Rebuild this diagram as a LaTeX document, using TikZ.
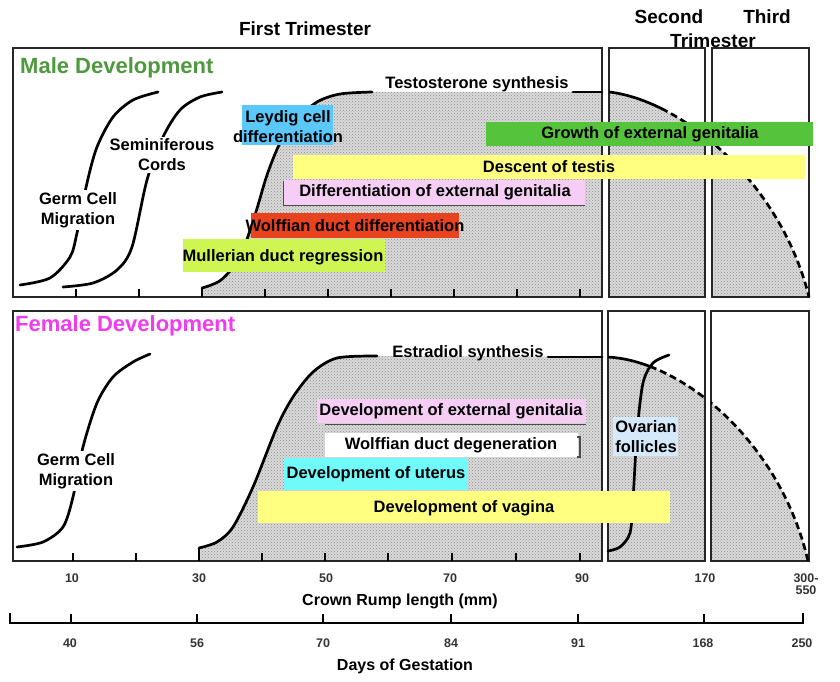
\documentclass[tikz,border=0pt]{standalone}
\usepackage{fontspec}
\setmainfont{Liberation Sans}
\usetikzlibrary{patterns}
\definecolor{malegreen}{RGB}{78,152,62}
\definecolor{femmag}{RGB}{238,60,238}
\definecolor{leyblue}{RGB}{90,200,250}
\definecolor{growgreen}{RGB}{85,196,60}
\definecolor{baryellow}{RGB}{255,255,128}
\definecolor{barpink}{RGB}{245,205,245}
\definecolor{barred}{RGB}{232,66,30}
\definecolor{barlime}{RGB}{206,245,82}
\definecolor{barcyan}{RGB}{112,250,250}
\definecolor{ovblue}{RGB}{212,233,250}
\definecolor{stip}{RGB}{218,218,218}
\begin{document}
\begin{tikzpicture}[x=1pt,y=-1pt,
  lbl/.style={font=\fontsize{16.5}{20}\selectfont\bfseries, inner sep=0pt, align=center},
  ttl/.style={font=\fontsize{19}{22}\selectfont\bfseries, inner sep=0pt},
  sect/.style={font=\fontsize{22}{24}\selectfont\bfseries, inner sep=0pt, anchor=west},
  num/.style={font=\fontsize{12.5}{12}\selectfont\bfseries, inner sep=0pt, align=center, text=black!80},
  axlbl/.style={font=\fontsize{16}{18}\selectfont\bfseries, inner sep=0pt},
  frame/.style={line width=1.7pt, draw=black!85},
  curve/.style={line width=2.7pt, line cap=round},
  dcurve/.style={line width=2.7pt, dash pattern=on 7pt off 4pt},
  tick/.style={line width=1.2pt},
  stipple/.style={fill=stip, postaction={pattern=crosshatch dots, pattern color=black!45}}]
\useasboundingbox (0,0) rectangle (840,682);

% ---------- headings ----------
\node[ttl] (first) at (305,29) {First Trimester};
\node[ttl] (second) at (669,17) {Second};
\node[ttl] (third) at (767,17) {Third};
\node[ttl] (trim) at (713,41) {Trimester};

% ================= MALE PANEL =================
\path[stipple] (202,297) -- plot[smooth] coordinates {(202,288) (221,280) (240,257) (255,215) (267,175) (280,143) (295,121) (317,102) (340,94) (372,92)} -- (602,92) -- (602,297) -- cycle;
\begin{scope}
  \clip (609,48) rectangle (705,297) (712,48) rectangle (809,297);
  \path[stipple] (609,92) .. controls (680,100) and (780,180) .. (809,297) -- (609,297) -- cycle;
\end{scope}
\draw[frame] (13,48) rectangle (602,297);
\draw[frame] (609,48) rectangle (705,297);
\draw[frame] (712,48) rectangle (809,297);
\foreach \x in {76,139,202,265,328,391,454,517,580} \draw[tick] (\x,297) -- (\x,289);

\draw[curve] plot[smooth] coordinates {(20,285) (50,278) (70,257) (77,233) (87,183) (97,147) (113,117) (133,100) (158,92)};
\draw[curve] plot[smooth] coordinates {(63,287) (93,283) (117,270) (132,247) (147,180) (163,137) (180,110) (200,97) (222,92)};
\draw[curve] plot[smooth] coordinates {(202,288) (221,280) (240,257) (255,215) (267,175) (280,143) (295,121) (317,102) (340,94) (372,92)};
\draw[curve] (573,92) -- (602,92);
\begin{scope}
  \clip (609,40) rectangle (667,300);
  \draw[curve] (609,92) .. controls (680,100) and (780,180) .. (809,297);
\end{scope}
\begin{scope}
  \clip (667,40) rectangle (705,300) (712,40) rectangle (811,300);
  \draw[dcurve] (609,92) .. controls (680,100) and (780,180) .. (809,297);
\end{scope}

\node[sect, text=malegreen] (male) at (20,68) {Male Development};
\node[lbl, fill=white, inner sep=2pt] (mgerm) at (78,210) {Germ Cell\\Migration};
\node[lbl, fill=white, inner sep=2pt] (semi) at (162,155) {Seminiferous\\Cords};
\node[lbl] (testo) at (477,84) {Testosterone synthesis};

\fill[leyblue] (242,105) rectangle (333,145);
\node[lbl] (leydig) at (288,127) {Leydig cell\\differentiation};
\fill[growgreen] (486,122) rectangle (813,146);
\node[lbl] (growth) at (650,134) {Growth of external genitalia};
\fill[baryellow] (293,155) rectangle (805,179);
\node[lbl] (descent) at (549,167) {Descent of testis};
\fill[barpink] (283,180) rectangle (585,205);
\draw[line width=1pt, black!70] (283,181) -- (283,205) -- (585,205);
\node[lbl] (mdiff) at (435,192) {Differentiation of external genitalia};
\fill[barred] (251,213) rectangle (459,238);
\node[lbl] (wolffd) at (355,226) {Wolffian duct differentiation};
\fill[barlime] (183,239) rectangle (385,272);
\node[lbl] (muller) at (283,257) {Mullerian duct regression};

% ================= FEMALE PANEL =================
\path[stipple] (199,561) -- plot[smooth] coordinates {(199,548) (217,542) (233,527) (253,487) (277,427) (293,397) (313,372) (337,358) (377,356)} -- (602,357) -- (602,561) -- cycle;
\begin{scope}
  \clip (608,311) rectangle (705,561) (711,311) rectangle (809,561);
  \path[stipple] (607,357) .. controls (680,360) and (780,440) .. (808,561) -- (607,561) -- cycle;
\end{scope}
\draw[frame] (13,311) rectangle (602,561);
\draw[frame] (608,311) rectangle (705,561);
\draw[frame] (711,311) rectangle (809,561);
\foreach \x in {73,136,262,325,388,452,516,580} \draw[tick] (\x,561) -- (\x,553);
\draw[tick] (199,561) -- (199,548);

\draw[curve] plot[smooth] coordinates {(17,547) (43,542) (63,527) (73,497) (83,447) (97,403) (113,377) (133,362) (150,354)};
\draw[curve] plot[smooth] coordinates {(199,548) (217,542) (233,527) (253,487) (277,427) (293,397) (313,372) (337,358) (377,356)};
\draw[curve] (548,357) -- (602,357);
\begin{scope}
  \clip (608,300) rectangle (653,565);
  \draw[curve] (607,357) .. controls (680,360) and (780,440) .. (808,561);
\end{scope}
\begin{scope}
  \clip (653,300) rectangle (705,565) (711,300) rectangle (811,565);
  \draw[dcurve] (607,357) .. controls (680,360) and (780,440) .. (808,561);
\end{scope}
\draw[curve] plot[smooth] coordinates {(608,551) (620,547) (630,533) (633,500) (637,433) (643,383) (653,363) (669,355)};

\node[sect, text=femmag] (female) at (15,326) {Female Development};
\node[lbl, fill=white, inner sep=2pt] (fgerm) at (76,471) {Germ Cell\\Migration};
\node[lbl] (estra) at (468,353) {Estradiol synthesis};

\fill[barpink] (317,399) rectangle (586,423);
\draw[line width=1pt, black!70] (325,424) -- (586,424);
\node[lbl] (fdev) at (451,411) {Development of external genitalia};
\fill[white] (325,433) rectangle (578,457);
\draw[line width=1.2pt, black!70] (577,437) -- (580,437) -- (580,457) -- (577,457);
\node[lbl] (wdeg) at (451,445) {Wolffian duct degeneration};
\fill[barcyan] (284,458) rectangle (468,490);
\node[lbl] (uter) at (376,474) {Development of uterus};
\fill[baryellow] (258,491) rectangle (670,523);
\node[lbl] (vag) at (464,508) {Development of vagina};
\fill[ovblue] (613,417) rectangle (678,456);
\node[lbl] (ovar) at (646,437) {Ovarian\\follicles};

% ================= AXES =================
\node[num] (c10) at (72,578) {10};
\node[num] (c30) at (199,578) {30};
\node[num] (c50) at (326,578) {50};
\node[num] (c70) at (450,578) {70};
\node[num] (c90) at (582,578) {90};
\node[num] (c170) at (705,578) {170};
\node[num] (c300) at (806,584) {300-\\550};
\node[axlbl] (crl) at (400,601) {Crown Rump length (mm)};

\draw[line width=1.3pt] (10,613) -- (10,623) -- (803,623) -- (803,613);
\foreach \x in {71,197,323,451,578,704} \draw[tick] (\x,623) -- (\x,614);
\node[num] (d40) at (70,643) {40};
\node[num] (d56) at (197,643) {56};
\node[num] (d70) at (323,643) {70};
\node[num] (d84) at (451,643) {84};
\node[num] (d91) at (578,643) {91};
\node[num] (d168) at (703,643) {168};
\node[num] (d250) at (802,643) {250};
\node[axlbl] (days) at (405,666) {Days of Gestation};
\end{tikzpicture}
\end{document}
